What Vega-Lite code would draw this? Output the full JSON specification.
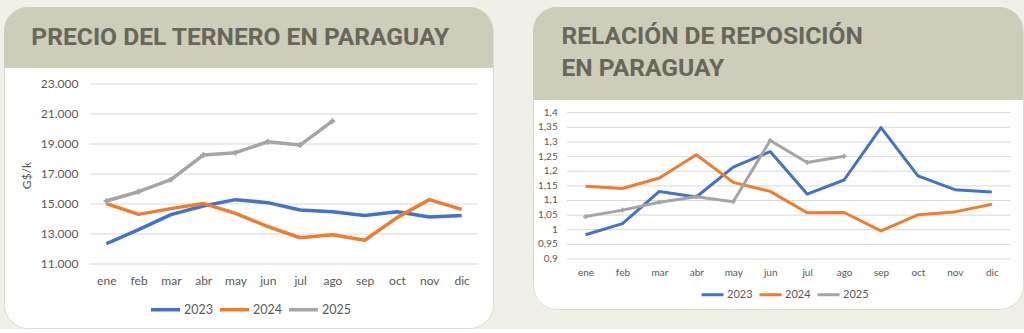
{
  "$schema": "https://vega.github.io/schema/vega-lite/v6.json",
  "background": "#f0f0e9",
  "padding": {"left": 3, "top": 6, "right": 0, "bottom": 0},
  "spacing": 40,
  "bounds": "flush",
  "datasets": {
    "precio": [
      {"m":1,"y":"2023","v":12350},{"m":2,"y":"2023","v":13290},{"m":3,"y":"2023","v":14290},{"m":4,"y":"2023","v":14870},{"m":5,"y":"2023","v":15290},{"m":6,"y":"2023","v":15090},{"m":7,"y":"2023","v":14600},{"m":8,"y":"2023","v":14490},{"m":9,"y":"2023","v":14240},{"m":10,"y":"2023","v":14490},{"m":11,"y":"2023","v":14130},{"m":12,"y":"2023","v":14240},
      {"m":1,"y":"2024","v":15020},{"m":2,"y":"2024","v":14310},{"m":3,"y":"2024","v":14690},{"m":4,"y":"2024","v":15040},{"m":5,"y":"2024","v":14380},{"m":6,"y":"2024","v":13490},{"m":7,"y":"2024","v":12750},{"m":8,"y":"2024","v":12950},{"m":9,"y":"2024","v":12580},{"m":10,"y":"2024","v":14090},{"m":11,"y":"2024","v":15290},{"m":12,"y":"2024","v":14640},
      {"m":1,"y":"2025","v":15200},{"m":2,"y":"2025","v":15820},{"m":3,"y":"2025","v":16620},{"m":4,"y":"2025","v":18260},{"m":5,"y":"2025","v":18420},{"m":6,"y":"2025","v":19150},{"m":7,"y":"2025","v":18930},{"m":8,"y":"2025","v":20530}
    ],
    "relacion": [
      {"m":1,"y":"2023","v":0.983},{"m":2,"y":"2023","v":1.021},{"m":3,"y":"2023","v":1.131},{"m":4,"y":"2023","v":1.112},{"m":5,"y":"2023","v":1.214},{"m":6,"y":"2023","v":1.267},{"m":7,"y":"2023","v":1.122},{"m":8,"y":"2023","v":1.170},{"m":9,"y":"2023","v":1.349},{"m":10,"y":"2023","v":1.184},{"m":11,"y":"2023","v":1.137},{"m":12,"y":"2023","v":1.129},
      {"m":1,"y":"2024","v":1.149},{"m":2,"y":"2024","v":1.141},{"m":3,"y":"2024","v":1.177},{"m":4,"y":"2024","v":1.256},{"m":5,"y":"2024","v":1.162},{"m":6,"y":"2024","v":1.131},{"m":7,"y":"2024","v":1.058},{"m":8,"y":"2024","v":1.059},{"m":9,"y":"2024","v":0.996},{"m":10,"y":"2024","v":1.051},{"m":11,"y":"2024","v":1.061},{"m":12,"y":"2024","v":1.087},
      {"m":1,"y":"2025","v":1.045},{"m":2,"y":"2025","v":1.067},{"m":3,"y":"2025","v":1.094},{"m":4,"y":"2025","v":1.113},{"m":5,"y":"2025","v":1.096},{"m":6,"y":"2025","v":1.305},{"m":7,"y":"2025","v":1.230},{"m":8,"y":"2025","v":1.251}
    ],
    "gridL": [{"g":11000},{"g":13000},{"g":15000},{"g":17000},{"g":19000},{"g":21000},{"g":23000}],
    "gridR": [{"g":0.9,"lbl":"0,9"},{"g":0.95,"lbl":"0,95"},{"g":1.0,"lbl":"1"},{"g":1.05,"lbl":"1,05"},{"g":1.1,"lbl":"1,1"},{"g":1.15,"lbl":"1,15"},{"g":1.2,"lbl":"1,2"},{"g":1.25,"lbl":"1,25"},{"g":1.3,"lbl":"1,3"},{"g":1.35,"lbl":"1,35"},{"g":1.4,"lbl":"1,4"}],
    "hdrL": [{"t":"PRECIO DEL TERNERO EN PARAGUAY"}],
    "hdrR": [{"t":"RELACIÓN DE REPOSICIÓN\nEN PARAGUAY"}]
  },
  "resolve": {"scale": {"color": "independent", "x": "independent", "y": "independent"}, "legend": {"color": "independent"}},
  "hconcat": [
    {
      "width": 489,
      "height": 321,
      "layer": [
        {
          "data": {"name": "hdrL"},
          "mark": {"type": "rect", "fill": "#cdcdb9", "cornerRadiusTopLeft": 24, "cornerRadiusTopRight": 24},
          "encoding": {
            "x": {"datum": -2.167, "type": "quantitative", "scale": {"domain": [-2.167, 12.972], "nice": false, "zero": false}},
            "x2": {"datum": 12.972},
            "y": {"datum": 28133.3, "type": "quantitative", "scale": {"domain": [6733.3, 28133.3], "nice": false, "zero": false}},
            "y2": {"datum": 24066.7}
          }
        },
        {
          "data": {"name": "hdrL"},
          "mark": {"type": "text", "align": "left", "baseline": "alphabetic", "font": "Roboto", "fontWeight": "bold", "fontSize": 24.6, "color": "#67675b"},
          "encoding": {
            "x": {"datum": -1.32, "type": "quantitative"},
            "y": {"datum": 25600, "type": "quantitative"},
            "text": {"field": "t"}
          }
        },
        {
          "data": {"name": "gridL"},
          "mark": {"type": "rule", "color": "#d9d9d9", "strokeWidth": 1},
          "encoding": {
            "x": {"datum": 0.5, "type": "quantitative"},
            "x2": {"datum": 12.5},
            "y": {"field": "g", "type": "quantitative", "title": "G$/k"}
          }
        },
        {
          "data": {"name": "precio"},
          "mark": {"type": "line", "strokeWidth": 3.5, "strokeJoin": "round"},
          "encoding": {
            "x": {"field": "m", "type": "quantitative", "scale": {"domain": [-2.167, 12.972], "nice": false, "zero": false},
              "axis": {"values": [1,2,3,4,5,6,7,8,9,10,11,12], "labelExpr": "['ene','feb','mar','abr','may','jun','jul','ago','sep','oct','nov','dic'][datum.value-1]", "orient": "bottom", "offset": -48, "domain": false, "ticks": false, "tickSize": 0, "grid": false, "labelPadding": 0, "labelBaseline": "middle", "labelFontSize": 12, "title": null}},
            "y": {"field": "v", "type": "quantitative", "title": "G$/k", "scale": {"domain": [6733.3, 28133.3], "nice": false, "zero": false},
              "axis": {"values": [11000,13000,15000,17000,19000,21000,23000], "labelExpr": "replace(format(datum.value, ','), ',', '.')", "orient": "left", "offset": -74, "domain": false, "ticks": false, "tickSize": 0, "grid": false, "labelPadding": 0, "labelFontSize": 12, "labelOverlap": false, "title": "G$/k", "titleX": -45, "titleY": 168, "titleFontSize": 12, "titleFontWeight": "normal", "titleColor": "#595959"}},
            "color": {"field": "y", "type": "nominal", "scale": {"domain": ["2023","2024","2025"], "range": ["#4472c4","#ed7d31","#a5a5a5"]},
              "legend": {"title": null, "orient": "none", "legendX": 145, "legendY": 286, "direction": "horizontal", "symbolType": "stroke", "symbolSize": 841, "symbolStrokeWidth": 3.5, "labelFontSize": 12.5, "labelOffset": 2, "columnPadding": 0}}
          }
        },
        {
          "data": {"name": "precio"},
          "transform": [{"filter": "datum.y == '2025'"}],
          "mark": {"type": "point", "shape": "cross", "filled": true, "size": 30, "color": "#a5a5a5", "opacity": 1},
          "encoding": {
            "x": {"field": "m", "type": "quantitative"},
            "y": {"field": "v", "type": "quantitative", "title": "G$/k"}
          }
        }
      ]
    },
    {
      "width": 490,
      "height": 302,
      "layer": [
        {
          "data": {"name": "hdrR"},
          "mark": {"type": "rect", "fill": "#cdcdb9", "cornerRadiusTopLeft": 24, "cornerRadiusTopRight": 24},
          "encoding": {
            "x": {"datum": -0.421, "type": "quantitative", "scale": {"domain": [-0.421, 12.844], "nice": false, "zero": false}},
            "x2": {"datum": 12.844},
            "y": {"datum": 1.7611, "type": "quantitative", "scale": {"domain": [0.7292, 1.7611], "nice": false, "zero": false},
              "axis": {"labels": false, "ticks": false, "domain": false, "grid": false, "title": null}},
            "y2": {"datum": 1.4434}
          }
        },
        {
          "data": {"name": "hdrR"},
          "mark": {"type": "text", "align": "left", "baseline": "alphabetic", "font": "Roboto", "fontWeight": "bold", "fontSize": 24.6, "color": "#67675b", "lineBreak": "\n", "lineHeight": 32},
          "encoding": {
            "x": {"datum": 0.35, "type": "quantitative"},
            "y": {"datum": 1.6347, "type": "quantitative",
              "axis": {"labels": false, "ticks": false, "domain": false, "grid": false, "title": null}},
            "text": {"field": "t"}
          }
        },
        {
          "data": {"name": "gridR"},
          "mark": {"type": "rule", "color": "#d9d9d9", "strokeWidth": 1},
          "encoding": {
            "x": {"datum": 0.5, "type": "quantitative"},
            "x2": {"datum": 12.5},
            "y": {"field": "g", "type": "quantitative",
              "axis": {"labels": false, "ticks": false, "domain": false, "grid": false, "title": null}}
          }
        },
        {
          "data": {"name": "gridR"},
          "mark": {"type": "text", "align": "right", "baseline": "middle", "fontSize": 10, "color": "#595959", "font": "Lato"},
          "encoding": {
            "x": {"datum": 0.2476, "type": "quantitative"},
            "y": {"field": "g", "type": "quantitative",
              "axis": {"labels": false, "ticks": false, "domain": false, "grid": false, "title": null}},
            "text": {"field": "lbl"}
          }
        },
        {
          "data": {"name": "relacion"},
          "mark": {"type": "line", "strokeWidth": 3, "strokeJoin": "round"},
          "encoding": {
            "x": {"field": "m", "type": "quantitative", "scale": {"domain": [-0.421, 12.844], "nice": false, "zero": false},
              "axis": {"values": [1,2,3,4,5,6,7,8,9,10,11,12], "labelExpr": "['ene','feb','mar','abr','may','jun','jul','ago','sep','oct','nov','dic'][datum.value-1]", "orient": "bottom", "offset": -37, "domain": false, "ticks": false, "tickSize": 0, "grid": false, "labelPadding": 0, "labelBaseline": "middle", "labelFontSize": 10, "title": null}},
            "y": {"field": "v", "type": "quantitative", "scale": {"domain": [0.7292, 1.7611], "nice": false, "zero": false},
              "axis": {"labels": false, "ticks": false, "domain": false, "grid": false, "title": null}},
            "color": {"field": "y", "type": "nominal", "scale": {"domain": ["2023","2024","2025"], "range": ["#4472c4","#ed7d31","#a5a5a5"]},
              "legend": {"title": null, "orient": "none", "legendX": 167, "legendY": 275, "direction": "horizontal", "symbolType": "stroke", "symbolSize": 484, "symbolStrokeWidth": 3, "labelFontSize": 11, "labelOffset": 2, "columnPadding": 0}}
          }
        },
        {
          "data": {"name": "relacion"},
          "transform": [{"filter": "datum.y == '2025'"}],
          "mark": {"type": "point", "shape": "cross", "filled": true, "size": 22, "color": "#a5a5a5", "opacity": 1},
          "encoding": {
            "x": {"field": "m", "type": "quantitative"},
            "y": {"field": "v", "type": "quantitative",
              "axis": {"labels": false, "ticks": false, "domain": false, "grid": false, "title": null}}
          }
        }
      ]
    }
  ],
  "config": {
    "view": {"fill": "white", "stroke": "#dcdcd3", "strokeWidth": 1, "cornerRadius": 24},
    "font": "Lato",
    "axis": {"labelColor": "#595959", "labelFont": "Lato", "titleFont": "Lato", "labelOverlap": false},
    "legend": {"labelColor": "#595959", "labelFont": "Lato"}
  }
}
